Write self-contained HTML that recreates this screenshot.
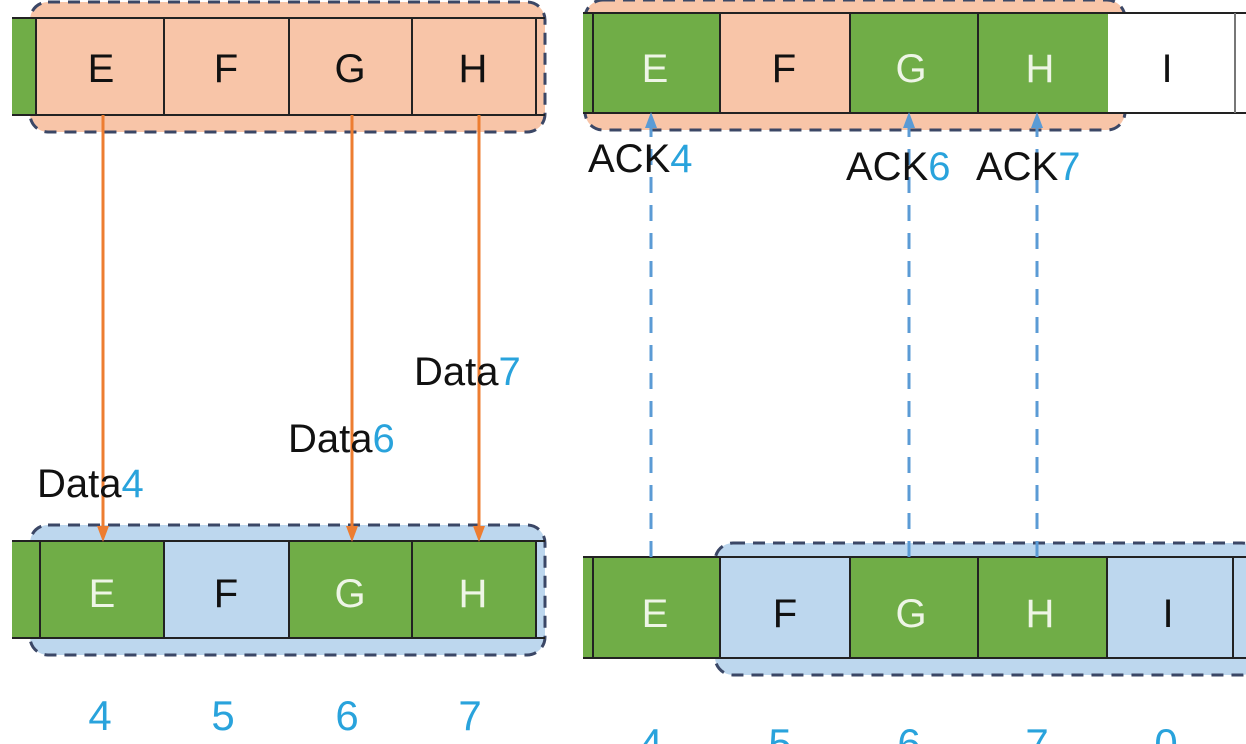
<!DOCTYPE html>
<html><head><meta charset="utf-8"><style>
html,body{margin:0;padding:0;background:#fff;}
svg{display:block;}
text{font-family:"Liberation Sans","DejaVu Sans",sans-serif;}
</style></head><body>
<svg width="1246" height="744" viewBox="0 0 1246 744">
<rect x="0" y="0" width="1246" height="744" fill="#fff"/>

<!-- LEFT TOP: sender window -->
<g>
<rect x="30" y="2" width="515" height="130" rx="18" fill="#f8c5a8" stroke="#3b4766" stroke-width="3" stroke-dasharray="12,8"/>
<rect x="12" y="18" width="24" height="97" fill="#70ad47"/>
<line x1="12" y1="18" x2="545" y2="18" stroke="#222" stroke-width="2"/>
<line x1="12" y1="115" x2="545" y2="115" stroke="#222" stroke-width="2"/>
<g stroke="#222" stroke-width="2"><line x1="36" y1="18" x2="36" y2="115"/><line x1="164" y1="18" x2="164" y2="115"/><line x1="289" y1="18" x2="289" y2="115"/><line x1="412" y1="18" x2="412" y2="115"/><line x1="536" y1="18" x2="536" y2="115"/></g>
<g font-size="40" text-anchor="middle" fill="#111">
<text x="101" y="82">E</text>
<text x="226" y="82">F</text>
<text x="350" y="82">G</text>
<text x="473" y="82">H</text>
</g>
</g>

<!-- LEFT BOTTOM: receiver -->
<g>
<rect x="30" y="525" width="515" height="130" rx="18" fill="#bdd7ee" stroke="#3b4766" stroke-width="3" stroke-dasharray="12,8"/>
<rect x="12" y="541" width="28" height="97" fill="#70ad47"/>
<rect x="40" y="541" width="124" height="97" fill="#70ad47"/>
<rect x="164" y="541" width="125" height="97" fill="#bdd7ee"/>
<rect x="289" y="541" width="123" height="97" fill="#70ad47"/>
<rect x="412" y="541" width="124" height="97" fill="#70ad47"/>
<line x1="12" y1="541" x2="545" y2="541" stroke="#222" stroke-width="2"/>
<line x1="12" y1="638" x2="545" y2="638" stroke="#222" stroke-width="2"/>
<g stroke="#222" stroke-width="2"><line x1="40" y1="541" x2="40" y2="638"/><line x1="164" y1="541" x2="164" y2="638"/><line x1="289" y1="541" x2="289" y2="638"/><line x1="412" y1="541" x2="412" y2="638"/><line x1="536" y1="541" x2="536" y2="638"/></g>
<g font-size="40" text-anchor="middle">
<text x="102" y="607" fill="#eef5e6">E</text>
<text x="226" y="607" fill="#111">F</text>
<text x="350" y="607" fill="#eef5e6">G</text>
<text x="473" y="607" fill="#eef5e6">H</text>
</g>
</g>
<g font-size="42" text-anchor="middle" fill="#29a3dc">
<text x="100" y="730">4</text><text x="223" y="730">5</text><text x="347" y="730">6</text><text x="470" y="730">7</text>
</g>

<!-- orange data arrows -->
<g stroke="#ed7d31" stroke-width="3" fill="#ed7d31">
<g><line x1="103" y1="115" x2="103" y2="528"/><polygon stroke="none" points="97,526 109,526 103,542"/></g>
<g><line x1="352" y1="115" x2="352" y2="528"/><polygon stroke="none" points="346,526 358,526 352,542"/></g>
<g><line x1="479" y1="115" x2="479" y2="528"/><polygon stroke="none" points="473,526 485,526 479,542"/></g>
</g>
<g font-size="40">
<text x="37" y="497" fill="#111">Data<tspan fill="#29a3dc">4</tspan></text>
<text x="288" y="452" fill="#111">Data<tspan fill="#29a3dc">6</tspan></text>
<text x="414" y="385" fill="#111">Data<tspan fill="#29a3dc">7</tspan></text>
</g>

<!-- RIGHT TOP: sender after ACKs -->
<g>
<rect x="585" y="0" width="540" height="130" rx="18" fill="#f8c5a8" stroke="#3b4766" stroke-width="3" stroke-dasharray="12,8"/>
<rect x="583" y="13" width="10" height="100" fill="#70ad47"/>
<rect x="593" y="13" width="127" height="100" fill="#70ad47"/>
<rect x="720" y="13" width="130" height="100" fill="#f8c5a8"/>
<rect x="850" y="13" width="128" height="100" fill="#70ad47"/>
<rect x="978" y="13" width="130" height="100" fill="#70ad47"/>
<rect x="1108" y="13" width="138" height="100" fill="#fff"/>
<line x1="583" y1="13" x2="1246" y2="13" stroke="#222" stroke-width="2"/>
<line x1="583" y1="113" x2="1246" y2="113" stroke="#222" stroke-width="2"/>
<g stroke="#222" stroke-width="2"><line x1="593" y1="13" x2="593" y2="113"/><line x1="720" y1="13" x2="720" y2="113"/><line x1="850" y1="13" x2="850" y2="113"/><line x1="978" y1="13" x2="978" y2="113"/><line x1="1235" y1="13" x2="1235" y2="113" stroke="#777"/></g>
<g font-size="40" text-anchor="middle">
<text x="655" y="82" fill="#eef5e6">E</text>
<text x="784" y="82" fill="#111">F</text>
<text x="911" y="82" fill="#eef5e6">G</text>
<text x="1040" y="82" fill="#eef5e6">H</text>
<text x="1167" y="82" fill="#111">I</text>
</g>
</g>

<!-- RIGHT BOTTOM: receiver after slide -->
<g>
<rect x="715" y="543" width="545" height="132" rx="18" fill="#bdd7ee" stroke="#3b4766" stroke-width="3" stroke-dasharray="12,8"/>
<rect x="583" y="557" width="10" height="101" fill="#70ad47"/>
<rect x="593" y="557" width="127" height="101" fill="#70ad47"/>
<rect x="720" y="557" width="130" height="101" fill="#bdd7ee"/>
<rect x="850" y="557" width="128" height="101" fill="#70ad47"/>
<rect x="978" y="557" width="129" height="101" fill="#70ad47"/>
<rect x="1107" y="557" width="126" height="101" fill="#bdd7ee"/>
<line x1="583" y1="557" x2="1246" y2="557" stroke="#222" stroke-width="2"/>
<line x1="583" y1="658" x2="1246" y2="658" stroke="#222" stroke-width="2"/>
<g stroke="#222" stroke-width="2"><line x1="593" y1="557" x2="593" y2="658"/><line x1="720" y1="557" x2="720" y2="658"/><line x1="850" y1="557" x2="850" y2="658"/><line x1="978" y1="557" x2="978" y2="658"/><line x1="1107" y1="557" x2="1107" y2="658"/><line x1="1233" y1="557" x2="1233" y2="658"/></g>
<g font-size="40" text-anchor="middle">
<text x="655" y="627" fill="#eef5e6">E</text>
<text x="785" y="627" fill="#111">F</text>
<text x="911" y="627" fill="#eef5e6">G</text>
<text x="1040" y="627" fill="#eef5e6">H</text>
<text x="1168" y="627" fill="#111">I</text>
</g>
</g>
<g font-size="42" text-anchor="middle" fill="#29a3dc">
<text x="651" y="758">4</text><text x="780" y="758">5</text><text x="909" y="758">6</text><text x="1037" y="758">7</text><text x="1166" y="758">0</text>
</g>

<!-- blue dashed ACK arrows -->
<g stroke="#5b9bd5" stroke-width="3" fill="#5b9bd5">
<g><line x1="651" y1="557" x2="651" y2="126" stroke-dasharray="16,12"/><polygon stroke="none" points="645,128 657,128 651,112"/></g>
<g><line x1="909" y1="557" x2="909" y2="126" stroke-dasharray="16,12"/><polygon stroke="none" points="903,128 915,128 909,112"/></g>
<g><line x1="1037" y1="557" x2="1037" y2="126" stroke-dasharray="16,12"/><polygon stroke="none" points="1031,128 1043,128 1037,112"/></g>
</g>
<g font-size="40">
<text x="588" y="172" fill="#111">ACK<tspan fill="#29a3dc">4</tspan></text>
<text x="846" y="180" fill="#111">ACK<tspan fill="#29a3dc">6</tspan></text>
<text x="976" y="180" fill="#111">ACK<tspan fill="#29a3dc">7</tspan></text>
</g>
</svg>
</body></html>
